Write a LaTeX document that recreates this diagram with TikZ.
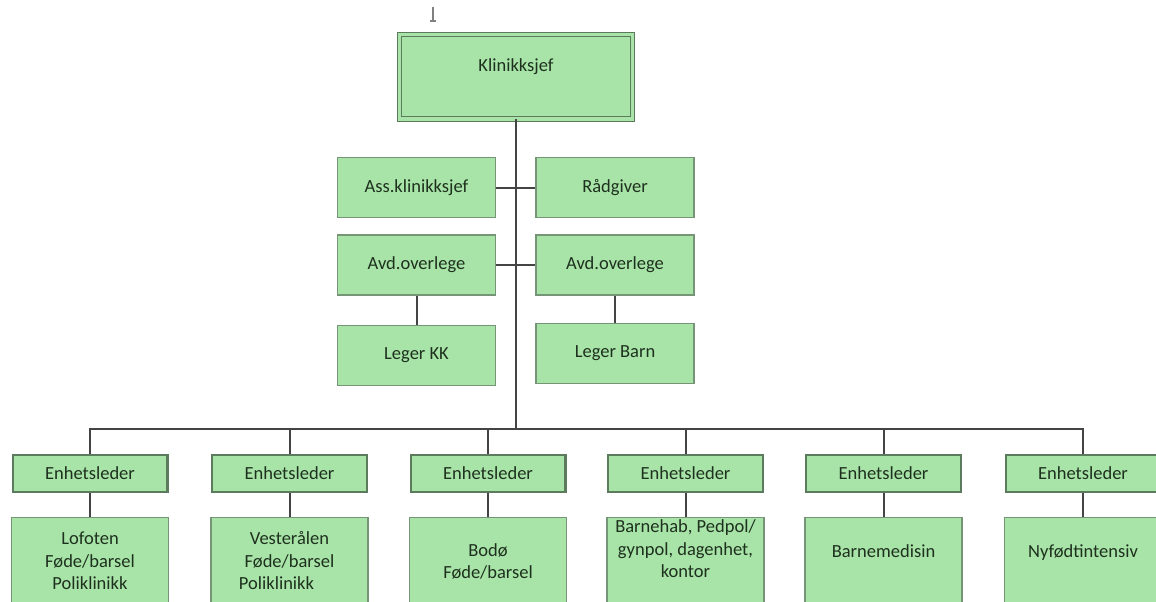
\documentclass[tikz,border=0pt]{standalone}
\usepackage{fontspec}
\setmainfont{Carlito}
\definecolor{boxfill}{RGB}{168,228,168}
\definecolor{boxline}{RGB}{118,148,118}
\definecolor{enhline}{RGB}{92,122,92}
\definecolor{linkgray}{RGB}{68,68,68}
\definecolor{boxtext}{RGB}{30,48,30}
\tikzstyle{every node}=[font=\fontsize{9.25pt}{11.3pt}\selectfont,text=boxtext]
\tikzstyle{chefbox}=[draw=enhline,line width=0.5pt,double=boxfill,double distance=1.6pt,fill=boxfill,minimum width=116.4pt,inner sep=0pt,text height=18.8pt,text depth=23.6pt,anchor=north]
\tikzstyle{box}=[draw=boxline,line width=0.6pt,fill=boxfill,minimum width=79pt,minimum height=30pt,inner sep=0pt]
\tikzstyle{enhbox}=[draw=enhline,line width=1.2pt,fill=boxfill,minimum width=77.3pt,minimum height=18.3pt,inner sep=0pt]
\tikzstyle{unitbox}=[draw=boxline,line width=0.6pt,fill=boxfill,minimum width=78.5pt,inner sep=0pt,anchor=north,align=center,text depth=60pt]
\tikzstyle{link}=[draw=linkgray,line width=1pt]

\begin{document}
\begin{tikzpicture}[x=0.5pt,y=-0.5pt]
    \useasboundingbox (0,0) rectangle (1156,601);
    \clip (0,0) rectangle (1156,601);
    \draw[gray,line width=0.6pt] (433,7) -- (433,21) (430,21) -- (436,21);
    \node[chefbox] (chef) at (516,33.6) {Klinikksjef};
    \node[box] (ass) at (416.5,187.5) {Ass.klinikksjef};
    \node[box] (rad) at (615,187.5) {Rådgiver};
    \node[box] (avdkk) at (416.5,265) {Avd.overlege};
    \node[box] (avdbarn) at (615,265) {Avd.overlege};
    \node[box] (legkk) at (416.5,355.5) {Leger KK};
    \node[box] (legbarn) at (615,353.5) {Leger Barn};
    \coordinate (bus) at (516,428.5);
    \foreach \x/\n in {90/1,289.5/2,488/3,685.5/4,883.5/5,1083/6}
        \node[enhbox] (enh\n) at (\x,473.5) {Enhetsleder};
    \node[unitbox,text height=36pt] (unit1) at (90,517) {Lofoten\\Føde/barsel\\Poliklinikk};
    \node[unitbox,text height=36pt] (unit2) at (289.5,517) {Vesterålen\\Føde/barsel\\Poliklinikk\hspace*{13pt}};
    \node[unitbox,text height=30.5pt] (unit3) at (488,517) {Bodø\\Føde/barsel};
    \node[unitbox,text height=30pt] (unit4) at (685.5,517) {Barnehab, Pedpol/\\gynpol, dagenhet,\\kontor};
    \node[unitbox,text height=20pt] (unit5) at (883.5,517) {Barnemedisin};
    \node[unitbox,text height=20pt] (unit6) at (1083,517) {Nyfødtintensiv};
    \draw[link,line width=1.4pt] (chef.south) -- (bus);
    \draw[link] (ass.east) -- (rad.west);
    \draw[link] (avdkk.east) -- (avdbarn.west);
    \draw[link] (avdkk.south) -- (legkk.north);
    \draw[link] (avdbarn.south) -- (legbarn.north);
    \foreach \n in {1,...,6} {
        \draw[link] (bus) -| (enh\n.north);
        \draw[link] (enh\n.south) -- (unit\n.north);
    }
\end{tikzpicture}
\end{document}
